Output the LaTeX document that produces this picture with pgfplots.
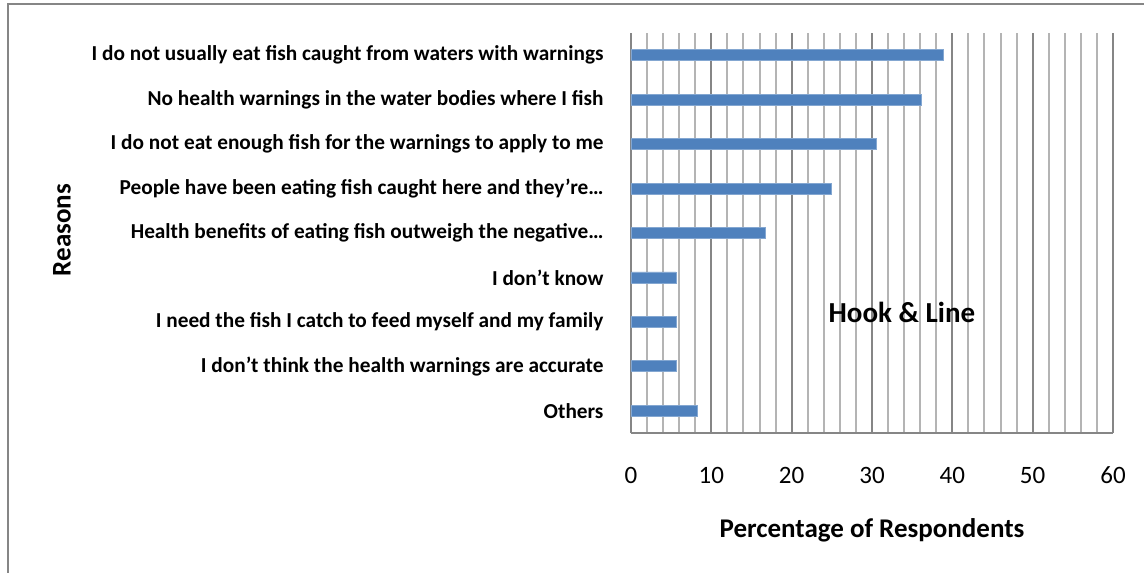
\documentclass[border=0pt]{standalone}
\usepackage{pgfplots}
\pgfplotsset{compat=1.18}
\usepackage{fontspec}
\setmainfont{Carlito}
\definecolor{barblue}{HTML}{4F81BD}
\definecolor{majgrid}{HTML}{868686}
\definecolor{mingrid}{HTML}{B4B4B4}
\begin{document}
\begin{tikzpicture}[x=1pt,y=1pt]
\path[use as bounding box] (0,0) rectangle (1144,573);
\draw[color=majgrid, line width=1.8pt] (8,0) -- (8,569) -- (1144,569);
\begin{axis}[
  at={(631pt,140pt)}, anchor=south west,
  scale only axis, width=482pt, height=400pt,
  xbar, bar width=11pt,
  xmin=0, xmax=60,
  ymin=-0.5, ymax=8.5, y dir=reverse,
  ytick={0,...,8},
  yticklabels={
    I do not usually eat fish caught from waters with warnings,
    No health warnings in the water bodies where I fish,
    I do not eat enough fish for the warnings to apply to me,
    People have been eating fish caught here and they’re…,
    Health benefits of eating fish outweigh the negative…,
    I don’t know,
    I need the fish I catch to feed myself and my family,
    I don’t think the health warnings are accurate,
    Others},
  xtick={0,10,...,60},
  minor x tick num=4,
  axis x line*=bottom, axis y line*=left,
  axis line style={majgrid, line width=2pt, -},
  xmajorgrids, xminorgrids,
  major grid style={majgrid, line width=2pt},
  minor grid style={mingrid, line width=2pt},
  major x tick style={majgrid, line width=2pt},
  major tick length=8pt,
  minor tick length=0pt,
  y tick style={draw=none},
  /pgf/number format/assume math mode=true,
  xticklabel style={font=\fontsize{25}{30}\selectfont, anchor=north, text height=17pt, text depth=0pt, yshift=-30pt},
  yticklabel style={font=\fontsize{21.3}{25}\selectfont\bfseries, xshift=-16pt},
  xlabel={Percentage of Respondents},
  xlabel style={font=\fontsize{27}{32}\selectfont\bfseries, at={(axis description cs:0.5,-0.2425)}, anchor=center},
  ylabel={Reasons},
  ylabel style={font=\fontsize{27}{32}\selectfont\bfseries, at={(axis description cs:-1.1805,0.5075)}, anchor=center, rotate=0},
  clip=false,
]
\addplot[fill=barblue, draw=barblue!70!white, line width=0.8pt] coordinates {
  (38.9,0) (36.1,1) (30.6,2) (25.0,3) (16.7,4) (5.6,5) (5.6,6) (5.6,7) (8.3,8)};
\node[font=\fontsize{29}{34}\selectfont\bfseries] at (axis description cs:0.562,0.3025) {Hook \& Line};
\end{axis}
\end{tikzpicture}
\end{document}
